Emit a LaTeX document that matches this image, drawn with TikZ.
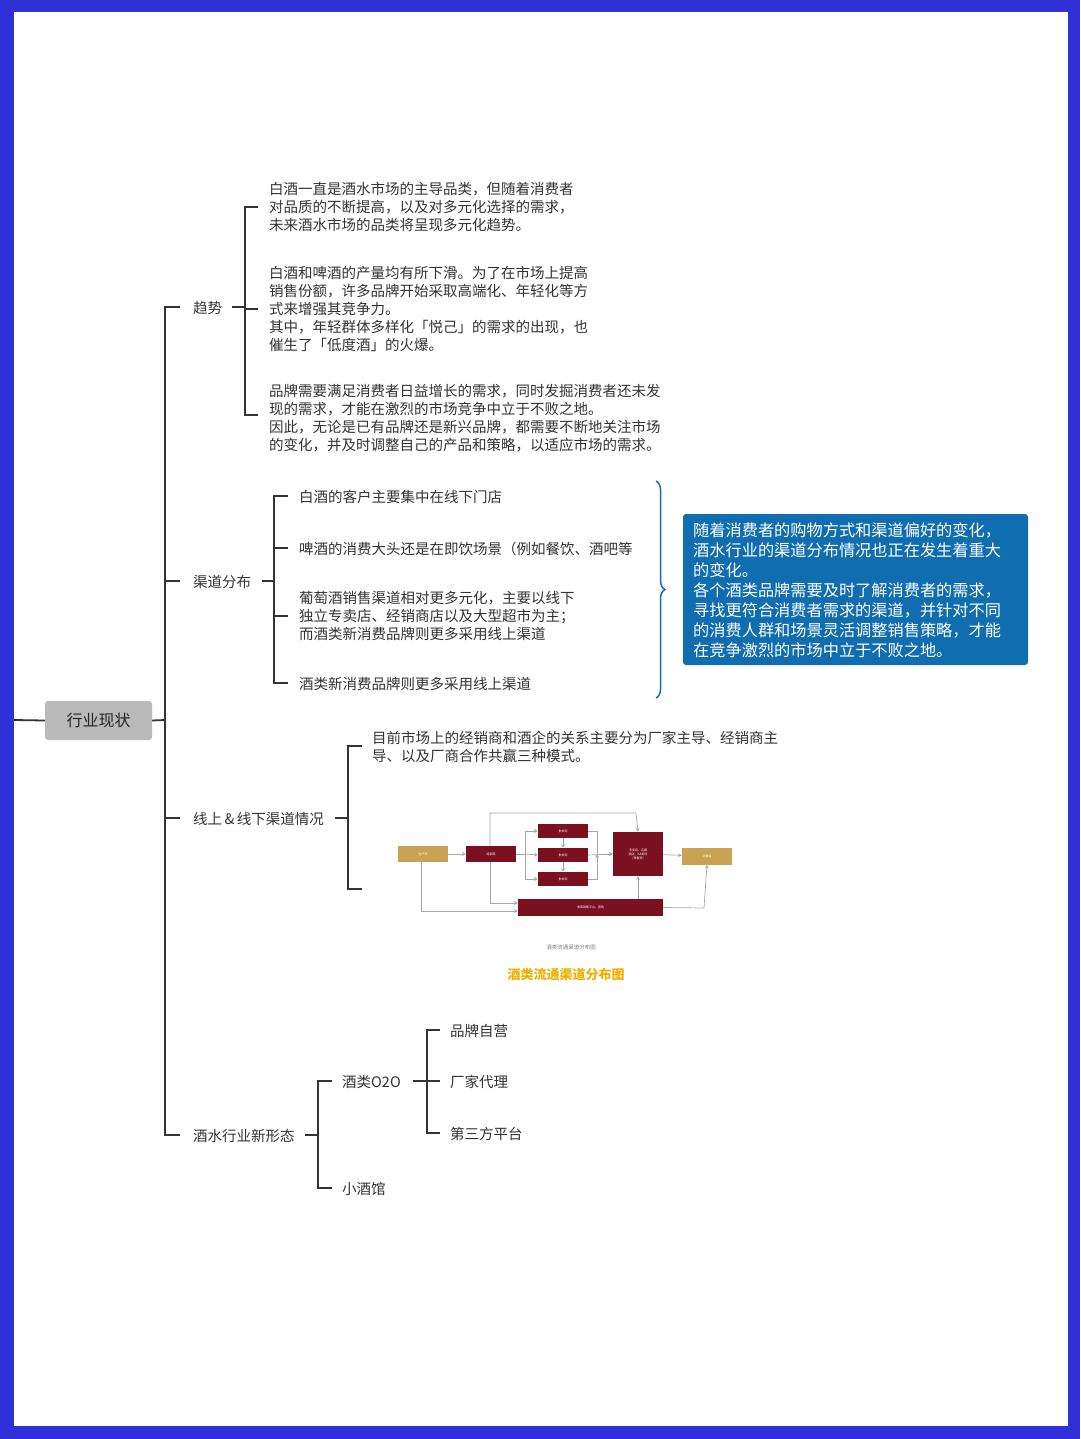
\documentclass[tikz,border=0pt]{standalone}
\usepackage{fontspec}
\setmainfont{Noto Sans CJK SC}
\usetikzlibrary{decorations.pathreplacing}
\definecolor{frame}{HTML}{3030D8}
\definecolor{ln}{HTML}{333333}
\definecolor{bluebox}{HTML}{106EB0}
\definecolor{wine}{HTML}{7A1020}
\definecolor{gold}{HTML}{C9A254}
\definecolor{capc}{HTML}{F0B000}
\begin{document}
\begin{tikzpicture}[x=1pt,y=-1pt,
 txt/.style={anchor=west,align=left,inner sep=0pt,text=ln,font=\fontsize{14.5}{18}\selectfont},
 br/.style={draw=ln,line width=1.8pt},
 fb/.style={minimum width=50pt,inner sep=0pt,font=\fontsize{3}{4}\selectfont,text=white},
 fa/.style={draw=gray!70,line width=0.7pt,->,>=stealth}]
\fill[frame] (0,0) rectangle (1080,1439);
\fill[white] (14,12) rectangle (1068,1426);
% root
\node[fill=gray!55,rounded corners=3pt,minimum width=107pt,minimum height=39pt,text=gray!30!black,font=\fontsize{16}{18}\selectfont] (root) at (98.5,720.5) {行业现状\hspace{10pt}};
\coordinate (L0) at (14,720);
\draw[br] (L0) -- (root.west);
\draw[br] (root.east) -- (165,720);
\draw[br] (180,307) -- (165,307) -- (165,1135) -- (180,1135);
\draw[br] (165,581) -- (180,581);
\draw[br] (165,818) -- (180,818);
% level 1
\node[txt] (qs) at (193,308) {趋势};
\node[txt] (qd) at (193,582) {渠道分布};
\node[txt] (xs) at (193,819) {线上\,\&\,线下渠道情况};
\node[txt] (xx) at (193,1136) {酒水行业新形态};
% 趋势
\draw[br] (232,307) -- (245,307);
\draw[br] (258,207) -- (245,207) -- (245,415) -- (258,415);
\draw[br] (245,309) -- (258,309);
\node[txt,anchor=north west] (q1) at (269,182) {白酒一直是酒水市场的主导品类，但随着消费者\\对品质的不断提高，以及对多元化选择的需求，\\未来酒水市场的品类将呈现多元化趋势。};
\node[txt,anchor=north west] (q2) at (269,266) {白酒和啤酒的产量均有所下滑。为了在市场上提高\\销售份额，许多品牌开始采取高端化、年轻化等方\\式来增强其竞争力。\\其中，年轻群体多样化「悦己」的需求的出现，也\\催生了「低度酒」的火爆。};
\node[txt,anchor=north west] (q3) at (269,384) {品牌需要满足消费者日益增长的需求，同时发掘消费者还未发\\现的需求，才能在激烈的市场竞争中立于不败之地。\\因此，无论是已有品牌还是新兴品牌，都需要不断地关注市场\\的变化，并及时调整自己的产品和策略，以适应市场的需求。};
% 渠道分布
\draw[br] (262,581) -- (274,581);
\draw[br] (288,496) -- (274,496) -- (274,683) -- (288,683);
\draw[br] (274,548) -- (288,548);
\draw[br] (274,616) -- (288,616);
\node[txt] (d1) at (299,497) {白酒的客户主要集中在线下门店};
\node[txt] (d2) at (299,549) {啤酒的消费大头还是在即饮场景（例如餐饮、酒吧等};
\node[txt,anchor=north west] (d3) at (299,591) {葡萄酒销售渠道相对更多元化，主要以线下\\独立专卖店、经销商店以及大型超市为主；\\而酒类新消费品牌则更多采用线上渠道};
\node[txt] (d4) at (299,684) {酒类新消费品牌则更多采用线上渠道};
\draw[draw=bluebox,line width=1.5pt,decoration={brace,amplitude=9pt},decorate] (656,481) -- (656,698);
\node[fill=bluebox,rounded corners=3pt,minimum width=345pt,minimum height=151pt,inner sep=0pt] (bb) at (855.5,589.5) {};
\node[anchor=north west,align=left,inner sep=0pt,text=white,font=\fontsize{16.2}{20}\selectfont] (bt) at (693,523) {随着消费者的购物方式和渠道偏好的变化，\\酒水行业的渠道分布情况也正在发生着重大\\的变化。\\各个酒类品牌需要及时了解消费者的需求，\\寻找更符合消费者需求的渠道，并针对不同\\的消费人群和场景灵活调整销售策略，才能\\在竞争激烈的市场中立于不败之地。};
% 线上线下
\draw[br] (335,818) -- (348,818);
\draw[br] (362,746) -- (348,746) -- (348,889) -- (362,889);
\node[txt,anchor=north west] (x1) at (372,731) {目前市场上的经销商和酒企的关系主要分为厂家主导、经销商主\\导、以及厂商合作共赢三种模式。};
% flow chart
\node[fb,fill=gold,minimum height=16pt] (f1) at (423,854) {生产商};
\node[fb,fill=wine,minimum height=16pt] (f2) at (491,854) {经销商};
\node[fb,fill=wine,minimum height=14pt] (f3) at (563,831) {批发商};
\node[fb,fill=wine,minimum height=14pt] (f4) at (563,855) {批发商};
\node[fb,fill=wine,minimum height=14pt] (f5) at (563,879) {批发商};
\node[fb,fill=wine,minimum height=44pt,align=center] (f6) at (638,854) {专卖店、名烟\\酒店、KA卖场\\（零售商）};
\node[fb,fill=gold,minimum height=17pt] (f7) at (707,856) {消费者};
\node[fb,fill=wine,minimum width=145pt,minimum height=17pt] (f8) at (590.5,907.5) {电商销售平台、团购};
\draw[fa] (f1) -- (f2);
\draw[fa] (f2.east) -- (525,854) |- (f3.west);
\draw[fa] (525,854) -- (f4.west);
\draw[fa] (525,854) |- (f5.west);
\draw[fa] (f3) -- (f4);
\draw[fa] (f4) -- (f5);
\draw[fa] (f3.east) -- (597,831) |- (f6.west);
\draw[fa] (f5.east) -- (597,879) -- (597,854);
\draw[fa] (f4.east) -- (f6.west);
\draw[fa] (f6) -- (f7);
\draw[fa] (f8.north -| f6) -- (f6.south);
\draw[fa] (f8.east) -- (704,908) -- (f7.south);
\draw[fa] (490,846) -- (490,813) -- (636,813) -- (f6.north);
\draw[fa] (490,862) -- (490,903) -- (f8.west |- 0,903);
\draw[fa] (421,862) -- (421,911) -- (f8.west |- 0,911);
\node[font=\fontsize{5.5}{6}\selectfont,text=gray] (cap1) at (571,947) {酒类流通渠道分布图};
\node[font=\bfseries\fontsize{13}{15}\selectfont,text=capc] (cap2) at (566,975) {酒类流通渠道分布图};
% 新形态
\draw[br] (305,1135) -- (318,1135);
\draw[br] (332,1081) -- (318,1081) -- (318,1188) -- (332,1188);
\node[txt] (o2o) at (342,1082) {酒类O2O};
\node[txt] (xj) at (342,1189) {小酒馆};
\draw[br] (413,1081) -- (427,1081);
\draw[br] (440,1030) -- (427,1030) -- (427,1133) -- (440,1133);
\draw[br] (427,1081) -- (440,1081);
\node[txt] (p1) at (450,1031) {品牌自营};
\node[txt] (p2) at (450,1082) {厂家代理};
\node[txt] (p3) at (450,1134) {第三方平台};
\end{tikzpicture}
\end{document}
